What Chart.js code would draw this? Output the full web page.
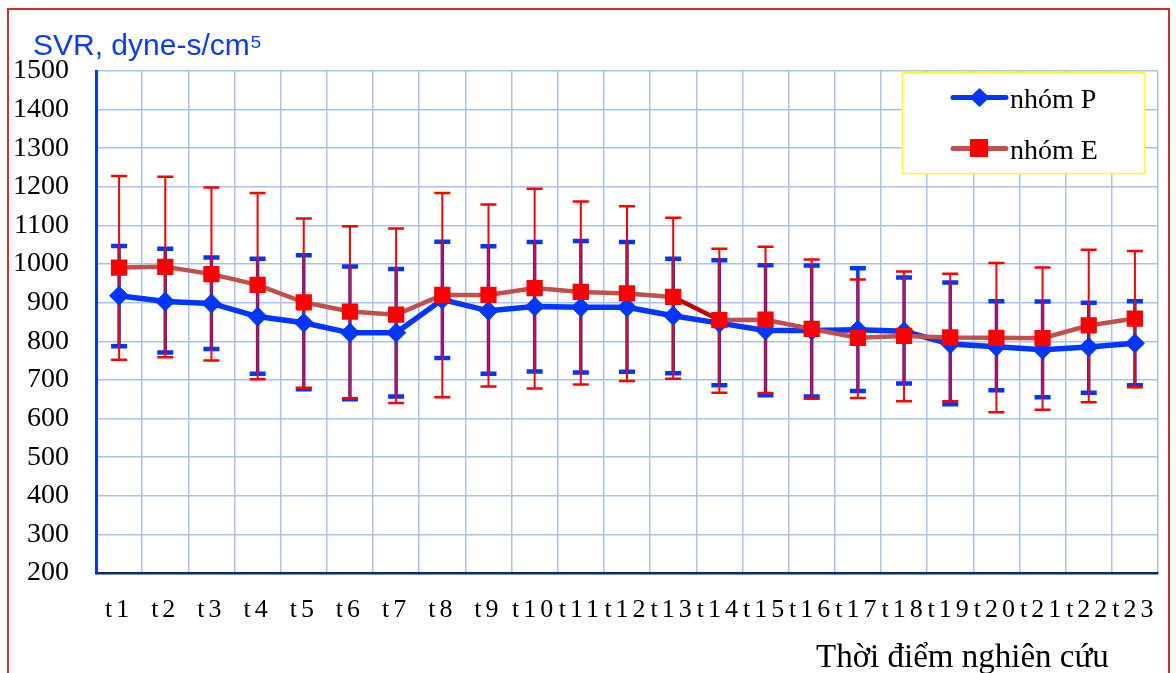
<!DOCTYPE html>
<html><head><meta charset="utf-8">
<script src="https://cdn.jsdelivr.net/npm/chart.js@4"></script>
<style>html,body{margin:0;padding:0;background:#fff;overflow:hidden}#wrap{position:relative;width:1176px;height:673px}</style>
</head><body><div id="wrap"><canvas id="c" width="1176" height="673"></canvas></div>
<script>
const categories = ['t1','t2','t3','t4','t5','t6','t7','t8','t9','t10','t11','t12','t13','t14','t15','t16','t17','t18','t19','t20','t21','t22','t23'];
const pMean  = [918, 903, 898, 864, 848, 822, 822, 908, 879, 890, 888, 888, 866, 847, 828, 828, 830, 826, 793, 786, 778, 785, 795];
const pUpper = [1047,1040,1017,1014,1023, 994, 987,1058,1046,1057,1060,1057,1014,1010, 997, 996, 989, 965, 952, 904, 903, 900, 904];
const pLower = [787, 771, 780, 716, 676, 650, 657, 757, 716, 722, 719, 721, 717, 686, 660, 657, 671, 691, 637, 673, 655, 667, 686];
const eMean  = [991, 993, 974, 946, 901, 877, 869, 920, 920, 938, 928, 924, 915, 855, 856, 832, 809, 814, 810, 809, 808, 841, 859];
const eUpper = [1228,1226,1198,1184,1118,1098,1092,1184,1154,1195,1162,1150,1120,1040,1045,1012, 960, 981, 975,1003, 991,1037,1034];
const eLower = [752, 759, 750, 702, 680, 652, 640, 655, 683, 678, 688, 697, 703, 667, 666, 651, 653, 645, 645, 616, 623, 642, 681];
const seriesNames = ['nhóm P', 'nhóm E'];
const yTitle = 'SVR, dyne-s/cm⁵';
const xTitle = 'Thời điểm nghiên cứu';

const BLUE = '#0036ff', RED = '#ff0000', BROWN = '#c0504d';

const errorBars = {
  id: 'errorBars',
  beforeDatasetsDraw(chart) {
    const {ctx, scales: {x, y}} = chart;
    const specs = [
      {lo: pLower, hi: pUpper, color: BLUE, lw: 3.5, capLw: 4.5, half: 8},
      {lo: eLower, hi: eUpper, color: RED, lw: 2, capLw: 2.5, half: 8}
    ];
    ctx.save();
    specs.forEach(s => {
      ctx.strokeStyle = s.color;
      for (let i = 0; i < categories.length; i++) {
        const xp = x.getPixelForValue(i);
        const yh = y.getPixelForValue(s.hi[i]);
        const yl = y.getPixelForValue(s.lo[i]);
        ctx.lineWidth = s.lw;
        ctx.beginPath(); ctx.moveTo(xp, yh); ctx.lineTo(xp, yl); ctx.stroke();
        ctx.lineWidth = s.capLw;
        ctx.beginPath();
        ctx.moveTo(xp - s.half, yh); ctx.lineTo(xp + s.half, yh);
        ctx.moveTo(xp - s.half, yl); ctx.lineTo(xp + s.half, yl);
        ctx.stroke();
      }
    });
    ctx.restore();
  }
};

const decor = {
  id: 'decor',
  beforeDraw(chart) {
    const ctx = chart.ctx;
    ctx.save(); ctx.fillStyle = '#fff'; ctx.fillRect(0, 0, chart.width, chart.height); ctx.restore();
    const s = chart.scales.x;
    if (s && !s._spaced) {
      const orig = s.drawLabels.bind(s);
      s.drawLabels = function(area) {
        const c = this.ctx; c.save(); c.letterSpacing = '4px'; orig(area); c.restore();
      };
      s._spaced = true;
    }
  },
  afterDraw(chart) {
    const ctx = chart.ctx;
    ctx.save();
    ctx.strokeStyle = '#d42a2a'; ctx.lineWidth = 2;
    ctx.strokeRect(8, 9, 1161, 700);
    ctx.fillStyle = '#0a3cff';
    ctx.font = '30px "Liberation Sans", Arial, sans-serif';
    ctx.textBaseline = 'alphabetic'; ctx.textAlign = 'left';
    ctx.fillText(yTitle, 33, 55);
    ctx.fillStyle = '#000';
    ctx.font = '33px "Liberation Serif", "Times New Roman", serif';
    ctx.fillText(xTitle, 816, 667);
    ctx.fillStyle = '#fff';
    ctx.fillRect(902, 72, 242, 101);
    ctx.strokeStyle = '#ffff00'; ctx.lineWidth = 1.5;
    ctx.strokeRect(902.5, 72.5, 242, 101);
    ctx.strokeStyle = BLUE; ctx.lineWidth = 5; ctx.lineCap = 'round';
    ctx.beginPath(); ctx.moveTo(953, 97.5); ctx.lineTo(1006, 97.5); ctx.stroke();
    ctx.fillStyle = BLUE;
    ctx.beginPath(); ctx.moveTo(969.5, 97.5); ctx.lineTo(979.5, 88); ctx.lineTo(989.5, 97.5); ctx.lineTo(979.5, 107); ctx.closePath(); ctx.fill();
    ctx.strokeStyle = BROWN;
    ctx.beginPath(); ctx.moveTo(953, 148.5); ctx.lineTo(1006, 148.5); ctx.stroke();
    ctx.fillStyle = RED; ctx.fillRect(970, 139, 18, 18);
    ctx.fillStyle = '#000';
    ctx.font = '28px "Liberation Serif", "Times New Roman", serif';
    ctx.fillText(seriesNames[0], 1010, 108);
    ctx.fillText(seriesNames[1], 1010, 159);
    ctx.restore();
  }
};

new Chart(document.getElementById('c'), {
  type: 'line',
  data: {
    labels: categories,
    datasets: [
      {label: seriesNames[0], data: pMean, borderColor: BLUE, backgroundColor: BLUE, borderWidth: 5.5,
       pointStyle: 'rectRot', pointRadius: 9.5, pointBorderWidth: 1, pointBackgroundColor: BLUE, pointBorderColor: BLUE,
       tension: 0, order: 2},
      {label: seriesNames[1], data: eMean, borderColor: BROWN, backgroundColor: RED, borderWidth: 4.5,
       pointStyle: 'rect', pointRadius: 11.5, pointBorderWidth: 0, pointBackgroundColor: RED, pointBorderColor: RED,
       tension: 0, order: 1,
       segment: {borderColor: c => c.p0DataIndex === 12 ? '#c00000' : undefined}}
    ]
  },
  options: {
    responsive: false, animation: false, devicePixelRatio: 1,
    layout: {padding: {top: 71, left: 0, right: 18, bottom: 0}},
    plugins: {legend: {display: false}, tooltip: {enabled: false}, title: {display: false}},
    scales: {
      x: {
        offset: true,
        grid: {offset: true, color: '#a9c3e6', lineWidth: 1.5, drawTicks: false},
        border: {color: '#0a2a6e', width: 2.5},
        ticks: {color: '#000', font: {family: '"Liberation Serif", "Times New Roman", serif', size: 26},
                padding: 22, maxRotation: 0, autoSkip: false},
        afterFit(s) { s.height = 100; }
      },
      y: {
        min: 200, max: 1500,
        grid: {color: '#a9c3e6', lineWidth: 1.5, drawTicks: false},
        border: {color: BLUE, width: 3},
        ticks: {stepSize: 100, color: '#000', font: {family: '"Liberation Serif", "Times New Roman", serif', size: 28},
                padding: 27, callback: v => String(v)},
        afterFit(s) { s.width = 96; }
      }
    }
  },
  plugins: [errorBars, decor]
});
</script></body></html>
